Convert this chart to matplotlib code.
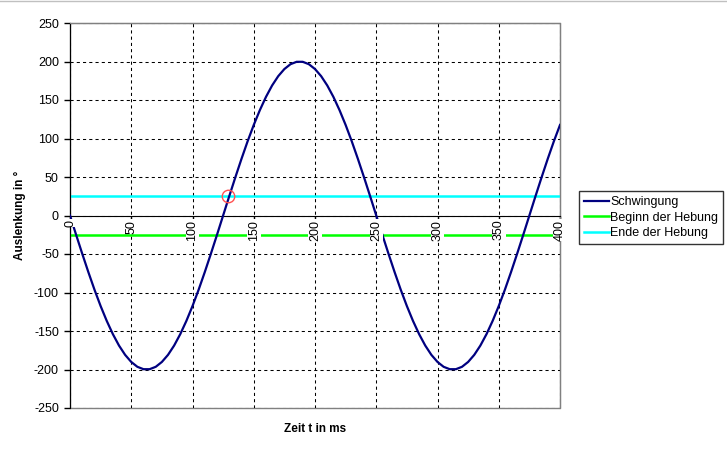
import matplotlib
matplotlib.use("Agg")
import matplotlib.pyplot as plt
from matplotlib.patches import Rectangle
from matplotlib.lines import Line2D

plt.rcParams['font.family'] = ['Liberation Sans', 'DejaVu Sans']
plt.rcParams['axes.unicode_minus'] = False

# Data
t_ms = [0, 5, 10, 15, 20, 25, 30, 35, 40, 45, 50, 55, 60, 65, 70, 75, 80, 85, 90, 95,
        100, 105, 110, 115, 120, 125, 130, 135, 140, 145, 150, 155, 160, 165, 170, 175, 180, 185, 190, 195,
        200, 205, 210, 215, 220, 225, 230, 235, 240, 245, 250, 255, 260, 265, 270, 275, 280, 285, 290, 295,
        300, 305, 310, 315, 320, 325, 330, 335, 340, 345, 350, 355, 360, 365, 370, 375, 380, 385, 390, 395,
        400]
schwingung = [0, -25.1, -49.7, -73.6, -96.4, -117.6, -136.9, -154.1, -168.9, -181.0,
              -190.2, -196.5, -199.6, -199.6, -196.5, -190.2, -181.0, -168.9, -154.1, -136.9,
              -117.6, -96.4, -73.6, -49.7, -25.1, 0, 25.1, 49.7, 73.6, 96.4,
              117.6, 136.9, 154.1, 168.9, 181.0, 190.2, 196.5, 199.6, 199.6, 196.5,
              190.2, 181.0, 168.9, 154.1, 136.9, 117.6, 96.4, 73.6, 49.7, 25.1,
              0, -25.1, -49.7, -73.6, -96.4, -117.6, -136.9, -154.1, -168.9, -181.0,
              -190.2, -196.5, -199.6, -199.6, -196.5, -190.2, -181.0, -168.9, -154.1, -136.9,
              -117.6, -96.4, -73.6, -49.7, -25.1, 0, 25.1, 49.7, 73.6, 96.4,
              117.6]
beginn_level = -25
ende_level = 25
marker_point = (129, 25)
x_ticks = [0, 50, 100, 150, 200, 250, 300, 350, 400]
y_ticks = [250, 200, 150, 100, 50, 0, -50, -100, -150, -200, -250]

fig = plt.figure(figsize=(7.27, 4.53), dpi=100)
fig.add_artist(Line2D([0, 1], [1 - 0.5/453, 1 - 0.5/453], transform=fig.transFigure,
                      color='#c0c0c0', lw=1))
ax = fig.add_axes([70/727, 1-408/453, 490/727, 385/453])
ax.set_xlim(0, 400)
ax.set_ylim(-250, 250)

ax.plot(t_ms, schwingung, color='#000080', lw=1.6, zorder=3, label='Schwingung')
ax.plot([0, 400], [beginn_level, beginn_level], color='#00ff00', lw=1.8, zorder=2, label='Beginn der Hebung')
ax.plot([0, 400], [ende_level, ende_level], color='#00ffff', lw=1.8, zorder=2, label='Ende der Hebung')
ax.plot([marker_point[0]], [marker_point[1]], 'o', ms=9, mfc='none', mec='#ff5050', mew=1, zorder=4)

# grid
ax.set_xticks(x_ticks)
ax.set_yticks(y_ticks)
ax.grid(True, color='black', linestyle=(0, (3, 3)), linewidth=0.75)
ax.set_axisbelow(True)

# spines
for s in ['top', 'right']:
    ax.spines[s].set_color('#808080')
ax.spines['left'].set_color('black')
ax.spines['bottom'].set_position(('data', 0))
ax.spines['bottom'].set_color('black')
ax.add_patch(Rectangle((0, 0), 1, 1, transform=ax.transAxes, fill=False,
                       edgecolor='#808080', lw=1, zorder=0.5, clip_on=False))

ax.tick_params(axis='both', direction='out', length=4, width=1, color='black', labelsize=9)
ax.tick_params(axis='y', pad=4)
ax.set_xticklabels([])
for t in x_ticks:
    ax.annotate(str(t), (t, 0), xytext=(0, -3), textcoords='offset points', rotation=90,
                ha='center', va='top', fontsize=9, zorder=6,
                bbox=dict(facecolor='white', edgecolor='none', pad=0.5))

ax.set_ylabel('Auslenkung in °', fontsize=8.5, fontweight='bold', labelpad=6)
fig.text(315/727, 1-429/453, 'Zeit t in ms', ha='center', va='center', fontsize=8.5, fontweight='bold')

leg = ax.legend(loc='upper left', bbox_to_anchor=(579/727, 1-191/453), bbox_transform=fig.transFigure,
                fontsize=9, frameon=True, fancybox=False, edgecolor='black', borderpad=0.4,
                handlelength=2.0, handletextpad=0.1, labelspacing=0.3, borderaxespad=0)
leg.get_frame().set_linewidth(1)

fig.savefig('out.png', dpi=100)
